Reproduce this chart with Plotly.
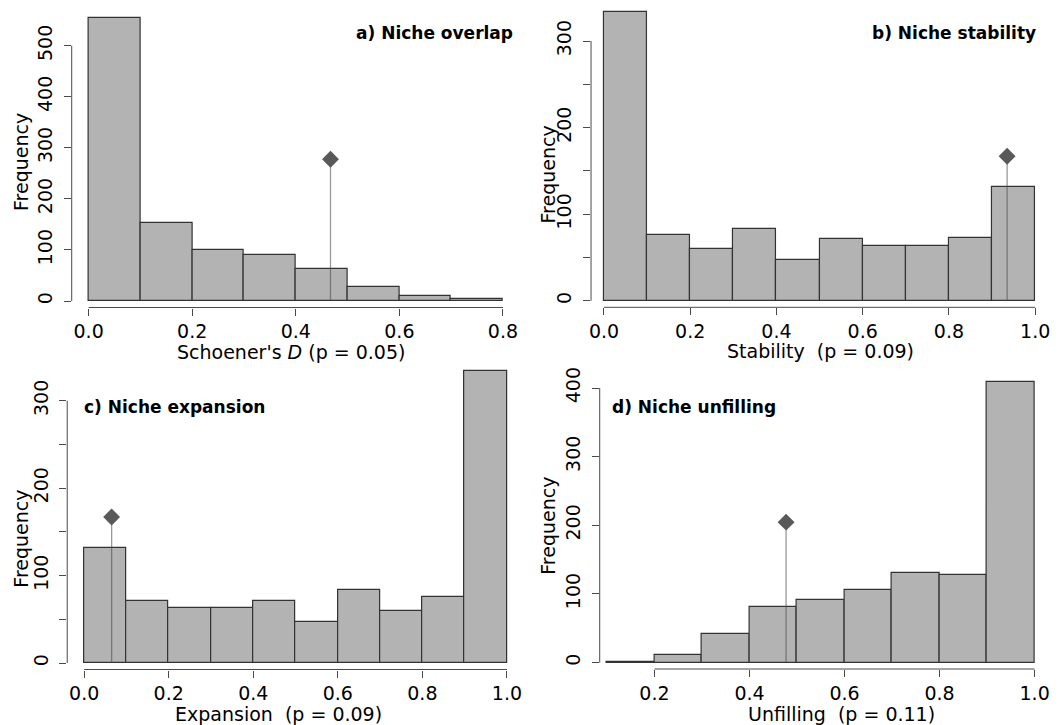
import plotly.graph_objects as go

W, H = 1060, 725
OFF = 8  # page body margin of the html page

# ---------------- data ----------------
edges_a = [0.0, 0.1, 0.2, 0.3, 0.4, 0.5, 0.6, 0.7, 0.8]
counts_a = [555, 153, 100, 90, 62, 27, 10, 3]
obs_a = 0.467

edges_b = [0.0, 0.1, 0.2, 0.3, 0.4, 0.5, 0.6, 0.7, 0.8, 0.9, 1.0]
counts_b = [334, 76, 60, 83, 47, 71, 63, 63, 72, 131]
obs_b = 0.935

edges_c = [0.0, 0.1, 0.2, 0.3, 0.4, 0.5, 0.6, 0.7, 0.8, 0.9, 1.0]
counts_c = [131, 71, 63, 63, 71, 47, 83, 60, 76, 334]
obs_c = 0.065

edges_d = [0.1, 0.2, 0.3, 0.4, 0.5, 0.6, 0.7, 0.8, 0.9, 1.0]
counts_d = [1, 11, 41, 81, 91, 105, 131, 127, 409]
obs_d = 0.477

xticks_a = [0.0, 0.2, 0.4, 0.6, 0.8]
xticks_b = [0.0, 0.2, 0.4, 0.6, 0.8, 1.0]
xticks_c = [0.0, 0.2, 0.4, 0.6, 0.8, 1.0]
xticks_d = [0.2, 0.4, 0.6, 0.8, 1.0]

yticks_a = [0, 100, 200, 300, 400, 500]
ylabels_a = ["0", "100", "200", "300", "400", "500"]
yticks_b = [0, 50, 100, 150, 200, 250, 300]
ylabels_b = ["0", "", "100", "", "200", "", "300"]
yticks_c = [0, 50, 100, 150, 200, 250, 300]
ylabels_c = ["0", "", "100", "", "200", "", "300"]
yticks_d = [0, 100, 200, 300, 400]
ylabels_d = ["0", "100", "200", "300", "400"]

titles = ["a) Niche overlap", "b) Niche stability", "c) Niche expansion", "d) Niche unfilling"]
xlabels = ["Schoener's <i>D</i> (p = 0.05)",
           "Stability\u00a0\u00a0(p = 0.09)",
           "Expansion\u00a0\u00a0(p = 0.09)",
           "Unfilling\u00a0\u00a0(p = 0.11)"]
ylabel = "Frequency"

# ---------------- layout calibration (pixels on screen) ----------------
FONT = "DejaVu Sans"
FS = 19
AX_COL = "#4a4a4a"
BAR_FILL = "#b3b3b3"
BAR_LINE = "#333333"

panels = [
    dict(edges=edges_a, counts=counts_a, obs=obs_a, xt=xticks_a, yt=yticks_a, yl=ylabels_a,
         xcal=(0.0, 87.0, 0.8, 503.3), ycal=(0, 301.0, 500, 45.7),
         yax=70.0, xax=307.5, right=515.0, top=9.0,
         title_xy=(515.5, 33.0), title_anchor="right",
         xlab_xy=(290.8, 352.0), ylab_xy=(19.0, 162.0)),
    dict(edges=edges_b, counts=counts_b, obs=obs_b, xt=xticks_b, yt=yticks_b, yl=ylabels_b,
         xcal=(0.0, 604.8, 1.0, 1038.0), ycal=(0, 300.8, 300, 41.0),
         yax=591.8, xax=307.3, right=1050.0, top=9.0,
         title_xy=(1040.5, 32.5), title_anchor="right",
         xlab_xy=(822.5, 351.0), ylab_xy=(549.0, 174.0)),
    dict(edges=edges_c, counts=counts_c, obs=obs_c, xt=xticks_c, yt=yticks_c, yl=ylabels_c,
         xcal=(0.0, 82.5, 1.0, 507.3), ycal=(0, 663.0, 300, 400.7),
         yax=65.5, xax=669.5, right=520.0, top=365.0,
         title_xy=(80.2, 407.0), title_anchor="left",
         xlab_xy=(277.5, 713.7), ylab_xy=(19.0, 538.7)),
    dict(edges=edges_d, counts=counts_d, obs=obs_d, xt=xticks_d, yt=yticks_d, yl=ylabels_d,
         xcal=(0.2, 655.5, 1.0, 1037.5), ycal=(0, 662.5, 400, 388.0),
         yax=600.5, xax=669.0, right=1050.0, top=365.0,
         title_xy=(610.8, 407.0), title_anchor="left",
         xlab_xy=(843.3, 713.7), ylab_xy=(549.0, 525.3)),
]


def px_x(px):
    return (px - OFF) / W


def px_y(py):
    return 1 - (py - OFF) / H


fig = go.Figure()
shapes = []
annotations = []

for i, p in enumerate(panels):
    n = i + 1
    xa = "x" if n == 1 else f"x{n}"
    ya = "y" if n == 1 else f"y{n}"
    xkey = "xaxis" if n == 1 else f"xaxis{n}"
    ykey = "yaxis" if n == 1 else f"yaxis{n}"

    v0, p0, v1, p1 = p["xcal"]
    sx = (p1 - p0) / (v1 - v0)
    xr0 = v0 + (p["yax"] - p0) / sx
    xr1 = v0 + (p["right"] - p0) / sx

    c0, q0, c1, q1 = p["ycal"]
    sy = (q0 - q1) / (c1 - c0)
    yr0 = c0 - (p["xax"] - q0) / sy
    yr1 = c0 + (q0 - p["top"]) / sy

    edges = p["edges"]
    centers = [(edges[k] + edges[k + 1]) / 2 for k in range(len(edges) - 1)]
    widths = [edges[k + 1] - edges[k] for k in range(len(edges) - 1)]

    fig.add_trace(go.Bar(x=centers, y=p["counts"], width=widths, xaxis=xa, yaxis=ya,
                         marker=dict(color=BAR_FILL, line=dict(color=BAR_LINE, width=1.2)),
                         showlegend=False, hoverinfo="skip"))
    h = max(p["counts"]) / 2
    fig.add_trace(go.Scatter(x=[p["obs"], p["obs"]], y=[0, h], mode="lines", xaxis=xa, yaxis=ya,
                             line=dict(color="rgba(70,70,70,0.55)", width=1.3),
                             showlegend=False, hoverinfo="skip"))
    fig.add_trace(go.Scatter(x=[p["obs"]], y=[h], mode="markers", xaxis=xa, yaxis=ya,
                             marker=dict(symbol="diamond", size=13, color="#595959"),
                             showlegend=False, hoverinfo="skip", cliponaxis=False))

    fig.layout[xkey] = dict(domain=[px_x(p["yax"]), px_x(p["right"])], range=[xr0, xr1],
                            anchor=ya, showgrid=False, zeroline=False, showline=False,
                            tickvals=p["xt"], ticktext=[f"{t:.1f}" for t in p["xt"]],
                            ticks="outside", ticklen=7, tickwidth=1, tickcolor=AX_COL,
                            tickfont=dict(family=FONT, size=FS, color="black"),
                            fixedrange=True)
    fig.layout[ykey] = dict(domain=[px_y(p["xax"]), px_y(p["top"])], range=[yr0, yr1],
                            anchor=xa, showgrid=False, zeroline=False, showline=False,
                            tickvals=p["yt"], ticktext=p["yl"], tickangle=-90,
                            ticks="outside", ticklen=7, tickwidth=1, tickcolor=AX_COL,
                            ticklabelstandoff=4,
                            tickfont=dict(family=FONT, size=FS, color="black"),
                            fixedrange=True)

    # axis lines spanning tick range (R style)
    shapes.append(dict(type="line", xref=xa, yref=f"{ya} domain",
                       x0=p["xt"][0], x1=p["xt"][-1], y0=0, y1=0,
                       line=dict(color=AX_COL, width=1)))
    shapes.append(dict(type="line", xref=f"{xa} domain", yref=ya,
                       x0=0, x1=0, y0=p["yt"][0], y1=p["yt"][-1],
                       line=dict(color=AX_COL, width=1)))

    tx, ty = p["title_xy"]
    annotations.append(dict(x=px_x(tx), y=px_y(ty), xref="paper", yref="paper",
                            text=f"<b>{titles[i]}</b>", showarrow=False,
                            xanchor=p["title_anchor"], yanchor="middle",
                            font=dict(family=FONT, size=17, color="black")))
    lx, ly = p["xlab_xy"]
    annotations.append(dict(x=px_x(lx), y=px_y(ly), xref="paper", yref="paper",
                            text=xlabels[i], showarrow=False,
                            xanchor="center", yanchor="middle",
                            font=dict(family=FONT, size=FS, color="black")))
    fx, fy = p["ylab_xy"]
    annotations.append(dict(x=px_x(fx), y=px_y(fy), xref="paper", yref="paper",
                            text=ylabel, showarrow=False, textangle=-90,
                            xanchor="center", yanchor="middle",
                            font=dict(family=FONT, size=FS, color="black")))

fig.update_layout(width=W, height=H, margin=dict(l=0, r=0, t=0, b=0),
                  paper_bgcolor="white", plot_bgcolor="white",
                  shapes=shapes, annotations=annotations, bargap=0,
                  font=dict(family=FONT, size=FS, color="black"))

fig.write_html("out.html")
